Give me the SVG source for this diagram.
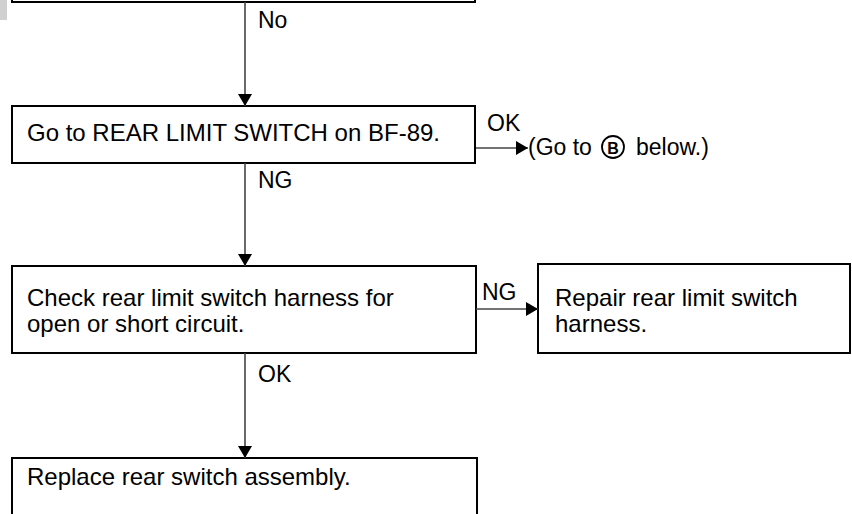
<svg xmlns="http://www.w3.org/2000/svg" width="852" height="514" viewBox="0 0 852 514">
<defs>
<style>
.box{fill:#fff;stroke:#000;stroke-width:2}
.conn{stroke:#444;stroke-width:1.6;fill:none}
.t{font-family:"Liberation Sans",Arial,sans-serif;font-size:24px;fill:#000}
.l{font-family:"Liberation Sans",Arial,sans-serif;font-size:23px;fill:#000}
</style>
<marker id="ah" viewBox="0 0 12 14" refX="12" refY="7" markerWidth="12" markerHeight="14" markerUnits="userSpaceOnUse" orient="auto">
<path d="M0,0 L12,7 L0,14 Z" fill="#000"/>
</marker>
</defs>
<rect width="852" height="514" fill="#fff"/>
<rect x="0" y="0" width="7" height="20" fill="#d0d0d0"/>
<g id="node-top">
<path class="box" d="M12,-10 L12,2 L475,2 L475,-10"/>
</g>
<g id="node-rear-limit">
<rect class="box" x="12" y="106" width="463" height="57"/>
<text class="t" x="27" y="141">Go to REAR LIMIT SWITCH on BF-89.</text>
</g>
<g id="node-goto-b">
<text class="l" x="528" y="155">(Go to</text>
<circle cx="613" cy="147" r="11" fill="none" stroke="#000" stroke-width="1.8"/>
<text x="613" y="153.5" text-anchor="middle" font-family="Liberation Sans,Arial,sans-serif" font-size="16" font-weight="bold">B</text>
<text class="l" x="636" y="155">below.)</text>
</g>
<g id="node-check-harness">
<rect class="box" x="12" y="266" width="464" height="87"/>
<text class="t" x="27" y="306">Check rear limit switch harness for</text>
<text class="t" x="27" y="332">open or short circuit.</text>
</g>
<g id="node-repair">
<rect class="box" x="538" y="264" width="312" height="89"/>
<text class="t" x="555" y="306">Repair rear limit switch</text>
<text class="t" x="555" y="332">harness.</text>
</g>
<g id="node-replace">
<path class="box" d="M12,524 L12,458 L477,458 L477,524"/>
<text class="t" x="27" y="485">Replace rear switch assembly.</text>
</g>
<g id="connectors">
<line class="conn" x1="245" y1="2" x2="245" y2="106" marker-end="url(#ah)"/>
<text class="l" x="258" y="28">No</text>
<line class="conn" x1="476" y1="148" x2="528" y2="148" marker-end="url(#ah)"/>
<text class="l" x="487" y="131">OK</text>
<line class="conn" x1="245" y1="163" x2="245" y2="266" marker-end="url(#ah)"/>
<text class="l" x="258" y="188">NG</text>
<line class="conn" x1="476" y1="309" x2="538" y2="309" marker-end="url(#ah)"/>
<text class="l" x="482" y="300">NG</text>
<line class="conn" x1="245" y1="353" x2="245" y2="458" marker-end="url(#ah)"/>
<text class="l" x="258" y="382">OK</text>
</g>
</svg>
